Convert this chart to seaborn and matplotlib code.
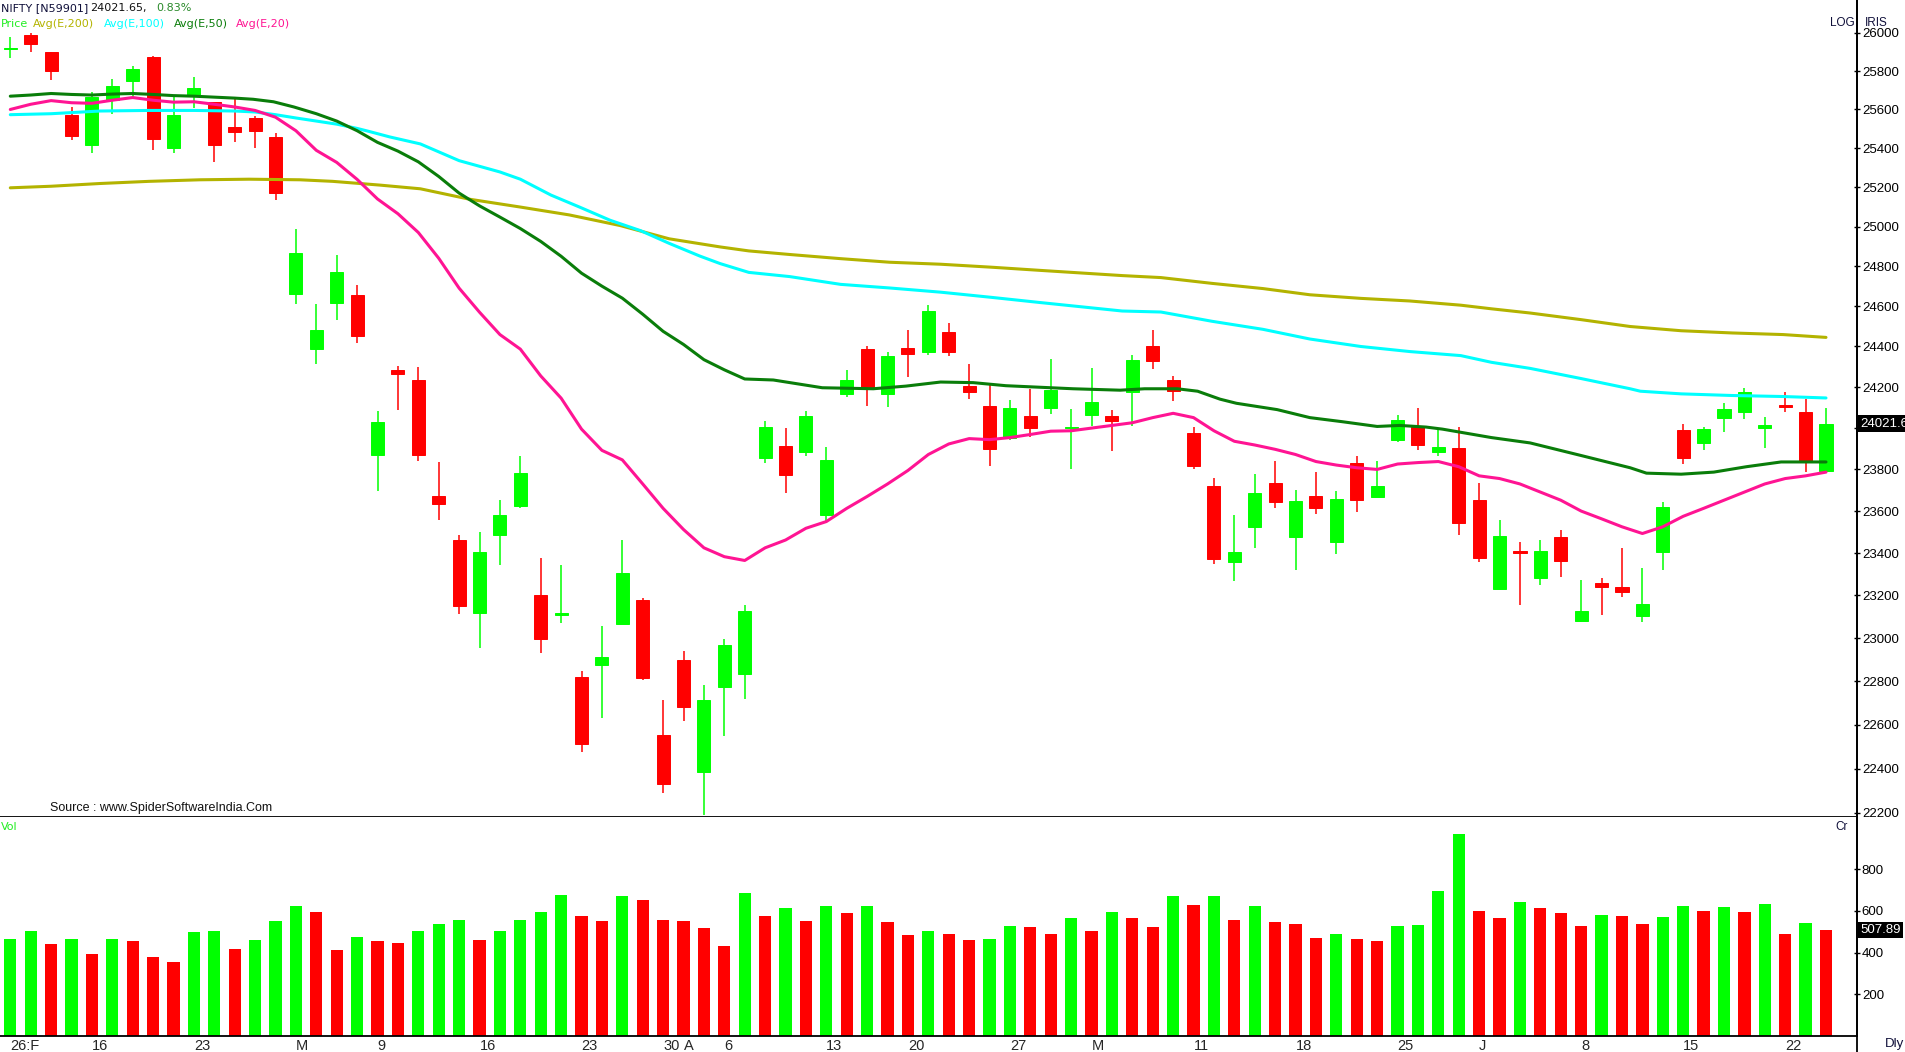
import matplotlib
matplotlib.use("Agg")
import matplotlib.pyplot as plt
import matplotlib.transforms as mtransforms
from matplotlib.lines import Line2D
from matplotlib.ticker import NullLocator, NullFormatter
import seaborn as sns

# daily candles
opens = [25915, 25987, 25899, 25573, 25416, 25647, 25747, 25872, 25400, 25672,
         25640, 25510, 25556, 25458, 24663, 24387, 24618, 24657, 23870, 24285,
         24237, 23673, 23460, 23117, 23485, 23623, 23200, 23110, 22822, 22876,
         23065, 23178, 22552, 22898, 22384, 22775, 22834, 23856, 23915, 23882,
         23580, 24167, 24387, 24167, 24392, 24372, 24472, 24207, 24108, 23954,
         24059, 24097, 24000, 24064, 24059, 24174, 24400, 24237, 23974, 23722,
         23359, 23525, 23733, 23477, 23673, 23455, 23833, 23668, 23944, 24005,
         23885, 23905, 23654, 23231, 23412, 23282, 23475, 23080, 23260, 23239,
         23102, 23405, 23990, 23928, 24051, 24079, 24000, 24113, 24077, 23792]
highs = [25979, 26000, 25900, 25614, 25693, 25760, 25827, 25880, 25667, 25768,
         25640, 25653, 25567, 25477, 24988, 24610, 24857, 24704, 24082, 24305,
         24300, 23838, 23488, 23500, 23655, 23867, 23376, 23345, 22849, 23057,
         23460, 23188, 22713, 22939, 22784, 22995, 23157, 24033, 24000, 24082,
         23910, 24285, 24400, 24372, 24480, 24605, 24517, 24315, 24210, 24136,
         24190, 24340, 24092, 24295, 24087, 24357, 24480, 24257, 24005, 23758,
         23580, 23779, 23841, 23699, 23787, 23694, 23867, 23841, 24064, 24097,
         23992, 24005, 23733, 23558, 23455, 23460, 23512, 23272, 23280, 23422,
         23328, 23644, 24018, 24005, 24121, 24195, 24054, 24177, 24141, 24097]
lows = [25867, 25899, 25752, 25441, 25373, 25578, 25667, 25389, 25375, 25608,
        25327, 25430, 25400, 25136, 24613, 24312, 24533, 24416, 23698, 24090,
        23841, 23555, 23115, 22954, 23345, 23613, 22929, 23070, 22475, 22631,
        23065, 22805, 22292, 22619, 22190, 22550, 22718, 23833, 23686, 23864,
        23550, 24151, 24110, 24103, 24250, 24357, 24352, 24141, 23818, 23941,
        23959, 24067, 23803, 24008, 23887, 24008, 24287, 24133, 23803, 23347,
        23267, 23425, 23613, 23318, 23587, 23398, 23597, 23668, 23931, 23895,
        23864, 23488, 23359, 23231, 23153, 23248, 23287, 23075, 23107, 23193,
        23075, 23318, 23826, 23895, 23979, 24044, 23905, 24077, 23787, 23792]
closes = [25922, 25941, 25800, 25463, 25667, 25720, 25813, 25447, 25573, 25712,
          25416, 25483, 25490, 25173, 24866, 24480, 24769, 24451, 24031, 24265,
          23869, 23636, 23150, 23407, 23580, 23785, 22995, 23118, 22511, 22912,
          23306, 22815, 22331, 22680, 22713, 22968, 23125, 24005, 23774, 24059,
          23846, 24237, 24192, 24352, 24362, 24576, 24372, 24177, 23897, 24097,
          24000, 24185, 24005, 24126, 24036, 24335, 24327, 24180, 23815, 23372,
          23407, 23688, 23642, 23649, 23613, 23660, 23652, 23719, 24038, 23918,
          23910, 23545, 23378, 23480, 23400, 23412, 23364, 23128, 23241, 23217,
          23162, 23618, 23854, 23995, 24092, 24177, 24015, 24105, 23836, 24021.65]

# volume in crore
volumes = [465, 506, 442, 465, 395, 465, 458, 378, 355, 500,
           503, 418, 460, 554, 624, 594, 413, 477, 454, 448,
           506, 536, 559, 460, 506, 559, 594, 676, 577, 554,
           670, 653, 559, 554, 518, 430, 688, 577, 612, 554,
           624, 588, 624, 548, 483, 506, 489, 460, 465, 530,
           524, 489, 565, 506, 594, 565, 524, 670, 629, 670,
           559, 624, 548, 536, 471, 489, 465, 455, 530, 532,
           694, 970, 600, 565, 641, 612, 588, 530, 583, 577,
           536, 571, 624, 600, 618, 594, 635, 490, 542, 507.89]

# moving averages sampled along the drawn lines (bar position, value)
ema200_idx = [0, 2, 4.4, 6.8, 9.3, 11.7, 14.2, 15.8, 18.1, 20.1, 22.5, 25, 27.4, 29.9, 32.3,
              34.8, 36.2, 38.2, 40.7, 43.1, 45.6, 48.1, 50.5, 54.5, 56.4, 58.9, 61.4, 63.7,
              66.2, 68.6, 71.1, 72.6, 74.5, 77, 79.4, 81.9, 84.4, 86.9, 89]
ema200_val = [25197, 25205, 25219, 25230, 25238, 25241, 25238, 25230, 25211, 25192, 25139,
              25099, 25059, 25005, 24938, 24897, 24877, 24859, 24838, 24820, 24810, 24795,
              24779, 24753, 24743, 24714, 24688, 24657, 24639, 24626, 24605, 24587, 24566,
              24533, 24499, 24478, 24467, 24459, 24445]
ema100_idx = [0, 2, 4.4, 6.8, 9, 11, 12, 13, 14, 15, 16, 17, 17.6, 18.6, 20.1, 22, 24, 25,
              26.5, 27.9, 29.4, 30.9, 32.3, 33.8, 34.8, 36.2, 38.2, 40.7, 43.1, 45.6, 48.1,
              50.5, 54.5, 56.4, 58.9, 61.4, 63.7, 66.2, 68.6, 71.1, 72.6, 74.5, 77, 79.4,
              79.9, 81.9, 84.4, 86.9, 89]
ema100_val = [25573, 25578, 25592, 25595, 25595, 25592, 25587, 25573, 25556, 25540, 25524,
              25502, 25486, 25458, 25422, 25336, 25278, 25241, 25160, 25099, 25032, 24979,
              24915, 24851, 24813, 24769, 24748, 24709, 24691, 24670, 24644, 24618, 24576,
              24571, 24525, 24485, 24437, 24400, 24375, 24355, 24322, 24292, 24242, 24192,
              24180, 24167, 24159, 24154, 24147]
ema50_idx = [0, 1, 2, 3, 4, 5, 6, 7, 8, 9, 10, 11, 11.9, 12.9, 13.9, 15, 16, 17, 18,
             19, 20, 21, 22, 23, 24, 25, 26, 27, 28, 29, 30, 31, 32, 33, 34, 35, 36,
             37.4, 39.8, 42.3, 43.9, 45.6, 47.2, 48.8, 52.1,
             54.4, 55.6, 57.2, 58.2, 59.3, 60.1, 62.1, 63.7, 65.3, 67, 68.1, 69.4, 70.2, 72.6,
             74.5, 77, 79.4, 80.2, 81.9, 83.5, 85.1, 86.8, 89]
ema50_val = [25669, 25675, 25683, 25678, 25675, 25680, 25683, 25678, 25672, 25669, 25664,
             25659, 25653, 25640, 25613, 25578, 25540, 25490, 25430,
             25385, 25330, 25255, 25170, 25105, 25048, 24990, 24925, 24850, 24765, 24700,
             24640, 24560, 24475, 24410, 24335, 24285, 24240,
             24235, 24197, 24192, 24205,
             24225, 24222, 24207, 24192, 24185, 24192, 24192, 24180, 24141, 24121, 24090,
             24051, 24031, 24008, 24013, 24005, 23995, 23954, 23928, 23867, 23808, 23782,
             23777, 23787, 23813, 23836, 23836]
ema20_val = [25600, 25627, 25646, 25635, 25632, 25648, 25662, 25648, 25638, 25640,
             25627, 25613, 25595, 25560, 25490, 25389, 25327, 25240, 25140, 25065,
             24970, 24840, 24690, 24570, 24459, 24387, 24255, 24146, 23995, 23892,
             23846, 23730, 23613, 23512, 23425, 23383, 23365, 23425, 23462, 23518,
             23550, 23613, 23670, 23730, 23795, 23872, 23923, 23949, 23944, 23954,
             23969, 23985, 23987, 24000, 24013, 24026, 24051, 24072, 24051, 23987,
             23936, 23918, 23897, 23872, 23838, 23821, 23808, 23800, 23826, 23833,
             23838, 23813, 23769, 23756, 23730, 23691, 23652, 23600, 23563, 23525,
             23493, 23525, 23575, 23613, 23652, 23691, 23730, 23756, 23769, 23787]

price_ticks = [22200, 22400, 22600, 22800, 23000, 23200, 23400, 23600, 23800, 24000,
               24200, 24400, 24600, 24800, 25000, 25200, 25400, 25600, 25800, 26000]
vol_ticks = [200, 400, 600, 800]
date_idx = [0, 4, 9, 14, 18, 23, 28, 32, 33, 35, 40, 44, 49, 53, 58, 63, 68, 72, 77, 82, 87]
date_lab = ["26:F", "16", "23", "M", "9", "16", "23", "30", "A", "6", "13", "20", "27",
            "M", "11", "18", "25", "J", "8", "15", "22"]

GREEN = "#00ff00"
RED = "#ff0000"

sns.set_style("white")
plt.rcParams["font.family"] = ["Liberation Sans", "DejaVu Sans"]

W, H = 1906, 1052
fig = plt.figure(figsize=(W / 100, H / 100), dpi=100)
ax = fig.add_axes([0, 1 - 817 / H, 1857 / W, 817 / H])
axv = fig.add_axes([0, 1 - 1036 / H, 1857 / W, (1036 - 817) / H])

x = list(range(len(closes)))
cols = [GREEN if c >= o else RED for o, c in zip(opens, closes)]

# candles
ax.vlines(x, lows, highs, colors=cols, linewidth=1.1, zorder=2)
ax.bar(x, [abs(c - o) for o, c in zip(opens, closes)],
       bottom=[min(o, c) for o, c in zip(opens, closes)],
       width=0.64, color=cols, edgecolor=cols, linewidth=0.7, zorder=2)

# averages
for idx, val, col in [(ema200_idx, ema200_val, "#b3b300"),
                      (ema100_idx, ema100_val, "#00ffff"),
                      (ema50_idx, ema50_val, "#0a7d0a"),
                      (x, ema20_val, "#ff1493")]:
    sns.lineplot(x=idx, y=val, ax=ax, color=col, linewidth=2.2, zorder=3)

ax.set_yscale("log")
ax.set_ylim(22182, 26174)
ax.set_xlim(-0.505, 90.52)
ax.yaxis.set_minor_locator(NullLocator())
ax.yaxis.set_minor_formatter(NullFormatter())
ax.set_yticks(price_ticks)
# the 24000 label sits under the last-price box, as on the original
ax.set_yticklabels(["" if t == 24000 else str(t) for t in price_ticks])
ax.yaxis.tick_right()
ax.tick_params(axis="y", direction="inout", length=5, width=1, pad=1,
               labelsize=9.5, colors="black")
ax.set_xticks([])
ax.set_xlabel("")
ax.set_ylabel("")
for s in ["top", "left"]:
    ax.spines[s].set_visible(False)
for s in ["right", "bottom"]:
    ax.spines[s].set_color("black")
    ax.spines[s].set_linewidth(1.3)

# volume, green when volume rose on the day before
vcols = [GREEN] + [GREEN if v > p else RED for p, v in zip(volumes[:-1], volumes[1:])]
axv.bar(x, volumes, width=0.6, color=vcols, linewidth=0)
axv.set_xlim(-0.505, 90.52)
axv.set_ylim(0, 1051)
axv.set_yticks(vol_ticks)
axv.set_yticklabels([str(t) for t in vol_ticks])
axv.yaxis.tick_right()
axv.tick_params(axis="y", direction="inout", length=5, width=1, pad=1,
                labelsize=9.5, colors="black")
axv.set_xticks(date_idx)
axv.set_xticklabels(date_lab, ha="left", fontsize=10.5,
                    family=["Liberation Sans Narrow", "Liberation Sans"])
axv.tick_params(axis="x", length=0, pad=2)
for s in ["top", "left"]:
    axv.spines[s].set_visible(False)
for s in ["right", "bottom"]:
    axv.spines[s].set_color("black")
    axv.spines[s].set_linewidth(1.3)

# right axis line runs to the bottom edge
fig.add_artist(Line2D([1857 / W, 1857 / W], [0, 1], color="black", linewidth=1.3))

# last value boxes
tr = mtransforms.blended_transform_factory(ax.transAxes, ax.transData)
ax.text(1.002, closes[-1], "24021.6", transform=tr, ha="left", va="center",
        color="white", fontsize=9.5,
        bbox=dict(facecolor="black", edgecolor="none", pad=1.6))
trv = mtransforms.blended_transform_factory(axv.transAxes, axv.transData)
axv.text(1.002, volumes[-1], "507.89", transform=trv, ha="left", va="center",
         color="white", fontsize=9.5,
         bbox=dict(facecolor="black", edgecolor="none", pad=1.6))

# header texts
hf = dict(family=["DejaVu Sans"], fontsize=8, va="center", ha="left")
fig.text(1 / W, 1 - 8 / H, "NIFTY [N59901]", color="#10103a", **hf)
fig.text(90 / W, 1 - 8 / H, "24021.65,", color="#111111", **hf)
fig.text(156 / W, 1 - 8 / H, "0.83%", color="#2a8a2a", **hf)
fig.text(1 / W, 1 - 24 / H, "Price", color="#22ee22", **hf)
fig.text(33 / W, 1 - 24 / H, "Avg(E,200)", color="#b3b300", **hf)
fig.text(104 / W, 1 - 24 / H, "Avg(E,100)", color="#00ffff", **hf)
fig.text(174 / W, 1 - 24 / H, "Avg(E,50)", color="#0a7d0a", **hf)
fig.text(236 / W, 1 - 24 / H, "Avg(E,20)", color="#ff1493", **hf)

fig.text(50 / W, 1 - 808 / H, "Source : www.SpiderSoftwareIndia.Com", color="#111111",
         fontsize=9, va="center", ha="left")
fig.text(1 / W, 1 - 827 / H, "Vol", color="#22ee22", **hf)
fig.text(1842 / W, 1 - 23 / H, "LOG", color="#10103a", fontsize=8.5, va="center", ha="center")
fig.text(1876 / W, 1 - 23 / H, "IRIS", color="#10103a", fontsize=8.5, va="center", ha="center")
fig.text(1842 / W, 1 - 827 / H, "Cr", color="#10103a", fontsize=8.5, va="center", ha="center")
fig.text(1895 / W, 1 - 1044 / H, "Dly", color="#10103a", fontsize=9.5, va="center", ha="center",
         family=["Liberation Sans Narrow", "Liberation Sans"])

fig.savefig("out.png", dpi=100)
